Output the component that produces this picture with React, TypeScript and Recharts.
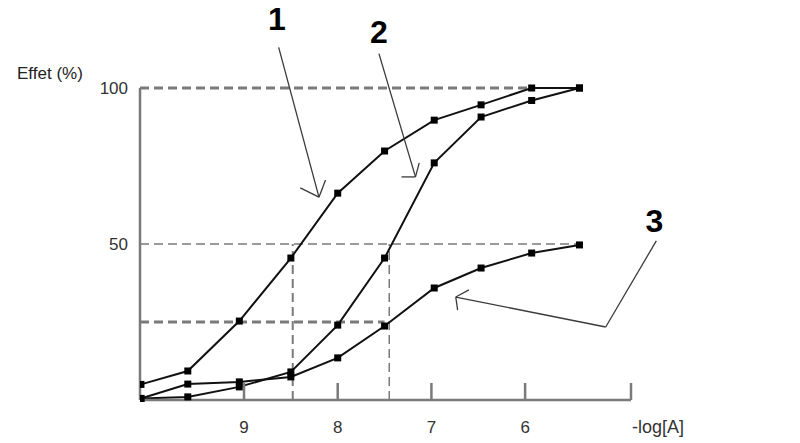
import { LineChart, Line, XAxis, YAxis, ReferenceLine, ReferenceDot } from 'recharts'

// -log[A] positions of the measured points
const logA = [10.1, 9.6, 9.05, 8.5, 8.0, 7.5, 6.97, 6.47, 5.93, 5.42]
const curve1 = [5, 9.3, 25.3, 45.5, 66.3, 79.8, 89.7, 94.6, 100, 100]
const curve2 = [0.5, 1, 4.2, 9, 24, 45.5, 76, 90.7, 96, 100]
const curve3 = [0.5, 5.1, 5.8, 7.4, 13.5, 23.7, 35.9, 42.3, 47.1, 49.7]

const xTicks = [9, 8, 7, 6]
const xMin = 4.87
const xMax = 10.11
const yTicks = [50, 100]

const data = logA.map((x, i) => ({ x, c1: curve1[i], c2: curve2[i], c3: curve3[i] }))

const font = '"Liberation Sans", Arial, sans-serif'
const grey = '#7a7a7a'
const pen = '#3a3a3a'

const Square = (props: any) => {
  const { cx, cy } = props
  if (cx == null || cy == null) return null
  return <rect x={cx - 3.5} y={cy - 3.5} width={7} height={7} fill="#000" />
}

const XTick = (props: any) => {
  const { x, y, payload } = props
  const isEnd = payload.value === xMin
  return (
    <g>
      <line x1={x} x2={x} y1={y} y2={y - 17} stroke={grey} strokeWidth={2.5} />
      <text
        x={isEnd ? x + 1 : x}
        y={y + 33}
        textAnchor={isEnd ? 'start' : 'middle'}
        fontFamily={font}
        fontSize={isEnd ? 18 : 17}
        fill="#333"
      >
        {isEnd ? '-log[A]' : payload.value}
      </text>
    </g>
  )
}

const seg = (a: [number, number], b: [number, number]) => [
  { x: a[0], y: a[1] },
  { x: b[0], y: b[1] },
]

const numLabel = (value: string) => ({
  value,
  position: 'center' as const,
  fontFamily: font,
  fontSize: 32,
  fontWeight: 'bold',
  fill: '#000',
})

export default function App() {
  return (
    <div style={{ position: 'absolute', left: 0, top: 0, background: '#fff' }}>
      <LineChart
        width={800}
        height={443}
        data={data}
        margin={{ top: 88, right: 169, bottom: 13, left: 100 }}
      >
        <XAxis
          dataKey="x"
          type="number"
          domain={[xMin, xMax]}
          reversed
          allowDataOverflow
          ticks={[...xTicks, xMin]}
          interval={0}
          height={30}
          tickSize={0}
          tickMargin={0}
          tickLine={false}
          axisLine={{ stroke: grey, strokeWidth: 2.5 }}
          tick={<XTick />}
        />
        <YAxis
          type="number"
          domain={[0, 100]}
          ticks={yTicks}
          width={40}
          tickLine={false}
          tickSize={6}
          tickMargin={6}
          axisLine={{ stroke: grey, strokeWidth: 2.5 }}
          tick={{ fontFamily: font, fontSize: 17, fill: '#333' }}
          label={{
            content: () => (
              <text x={17} y={79} fontFamily={font} fontSize={17} fill="#222">
                Effet (%)
              </text>
            ),
          }}
        />

        {/* guide lines */}
        <ReferenceLine segment={seg([xMax, 100], [5.93, 100])} stroke={grey} strokeWidth={3} strokeDasharray="9 5" />
        <ReferenceLine segment={seg([xMax, 50], [5.42, 50])} stroke={grey} strokeWidth={1.5} strokeDasharray="9 5" />
        <ReferenceLine segment={seg([xMax, 25], [7.5, 25])} stroke={grey} strokeWidth={3} strokeDasharray="9 5" />
        <ReferenceLine segment={seg([8.48, 0], [8.48, 50])} stroke={grey} strokeWidth={2} strokeDasharray="9 5" />
        <ReferenceLine segment={seg([7.45, 0], [7.45, 50])} stroke={grey} strokeWidth={1.5} strokeDasharray="9 5" />

        <Line dataKey="c1" stroke="#111" strokeWidth={2} dot={<Square />} isAnimationActive={false} />
        <Line dataKey="c2" stroke="#111" strokeWidth={2} dot={<Square />} isAnimationActive={false} />
        <Line dataKey="c3" stroke="#111" strokeWidth={2} dot={<Square />} isAnimationActive={false} />

        {/* annotation arrows */}
        <ReferenceLine segment={seg([8.63, 113], [8.2, 65])} stroke={pen} strokeWidth={1.3} ifOverflow="visible" />
        <ReferenceLine segment={seg([8.4, 68], [8.2, 65])} stroke={pen} strokeWidth={1.3} ifOverflow="visible" />
        <ReferenceLine segment={seg([8.13, 70.5], [8.2, 65])} stroke={pen} strokeWidth={1.3} ifOverflow="visible" />

        <ReferenceLine segment={seg([7.56, 111], [7.17, 71.5])} stroke={pen} strokeWidth={1.3} ifOverflow="visible" />
        <ReferenceLine segment={seg([7.32, 71.5], [7.17, 71.5])} stroke={pen} strokeWidth={1.3} ifOverflow="visible" />
        <ReferenceLine segment={seg([7.13, 76], [7.17, 71.5])} stroke={pen} strokeWidth={1.3} ifOverflow="visible" />

        <ReferenceLine segment={seg([4.6, 51], [5.14, 23.4])} stroke={pen} strokeWidth={1.3} ifOverflow="visible" />
        <ReferenceLine segment={seg([5.14, 23.4], [6.74, 33])} stroke={pen} strokeWidth={1.3} ifOverflow="visible" />
        <ReferenceLine segment={seg([6.6, 35.3], [6.74, 33])} stroke={pen} strokeWidth={1.3} ifOverflow="visible" />
        <ReferenceLine segment={seg([6.72, 28.8], [6.74, 33])} stroke={pen} strokeWidth={1.3} ifOverflow="visible" />

        <ReferenceDot x={8.65} y={122.2} r={0} ifOverflow="visible" label={numLabel('1')} />
        <ReferenceDot x={7.56} y={118} r={0} ifOverflow="visible" label={numLabel('2')} />
        <ReferenceDot x={4.62} y={57.5} r={0} ifOverflow="visible" label={numLabel('3')} />
      </LineChart>
    </div>
  )
}
